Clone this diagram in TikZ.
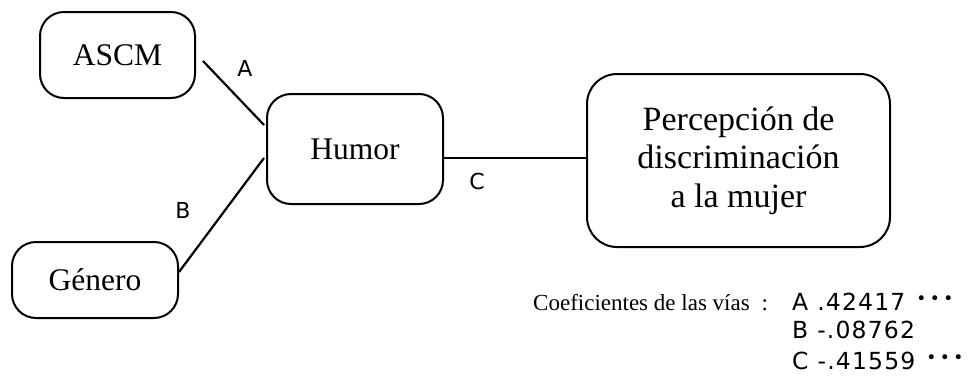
\documentclass[tikz,border=0pt]{standalone}
\usepackage{fontspec}
\setmainfont{Liberation Serif}
\newfontfamily\labfont{DejaVu Sans}
\newfontfamily\coeffont[LetterSpace=5]{DejaVu Sans}
\newcommand{\sigdots}{\raisebox{0.22em}{\fontsize{17}{17}\selectfont\labfont •\hspace{3.5pt}•\hspace{3.5pt}•}}
\begin{document}
\begin{tikzpicture}[x=1pt,y=-1pt,
  box/.style={draw,line width=2pt,rounded corners=24pt,inner sep=0pt,align=center},
  conn/.style={line width=2.2pt},
  pathlab/.style={font=\fontsize{22}{22}\selectfont\labfont,inner sep=0pt}]
\useasboundingbox (0,0) rectangle (974,375);
\fill[white] (0,0) rectangle (974,375);
\node[box,minimum width=155pt,minimum height=86pt,font=\fontsize{31.5}{34}\selectfont] (ascm) at (117.5,55) {ASCM};
\node[box,minimum width=176pt,minimum height=110pt,font=\fontsize{31.5}{34}\selectfont] (humor) at (355,149) {Humor};
\node[box,minimum width=166pt,minimum height=76pt,font=\fontsize{31.5}{34}\selectfont] (genero) at (95,280) {Género};
\node[box,minimum width=303pt,minimum height=173pt,rounded corners=30pt,font=\fontsize{34}{38.5}\selectfont] (perc) at (738.5,160.5) {Percepción de\\discriminación\\a la mujer};
\coordinate (aStart) at (203,61);
\coordinate (aEnd) at ([yshift=24pt,xshift=-2pt]humor.west);
\coordinate (bEnd) at ([yshift=-9pt,xshift=-2pt]humor.west);
\coordinate (bStart) at ([yshift=8pt]genero.east);
\draw[conn] (aStart) -- (aEnd);
\draw[conn] (bStart) -- (bEnd);
\draw[line width=1.6pt] ([yshift=-9pt]humor.east) -- ([yshift=2.5pt]perc.west);
\node[pathlab] (la) at (245,68) {A};
\node[pathlab] (lb) at (183,210) {B};
\node[pathlab] (lc) at (477,181) {C};
\node[anchor=base west,inner sep=0pt,font=\fontsize{23}{23}\selectfont] (coef) at (533,310) {Coeficientes de las vías\hspace{12pt}:};
\node[anchor=base west,inner sep=0pt,font=\fontsize{23.5}{23.5}\selectfont\coeffont] (ra) at (792,310) {A\hspace{9pt}.42417\hspace{11pt}\sigdots};
\node[anchor=base west,inner sep=0pt,font=\fontsize{23.5}{23.5}\selectfont\coeffont] (rb) at (792,338) {B\hspace{9pt}-.08762};
\node[anchor=base west,inner sep=0pt,font=\fontsize{23.5}{23.5}\selectfont\coeffont] (rc) at (792,369) {C\hspace{9pt}-.41559\hspace{11pt}\sigdots};
\end{tikzpicture}
\end{document}
